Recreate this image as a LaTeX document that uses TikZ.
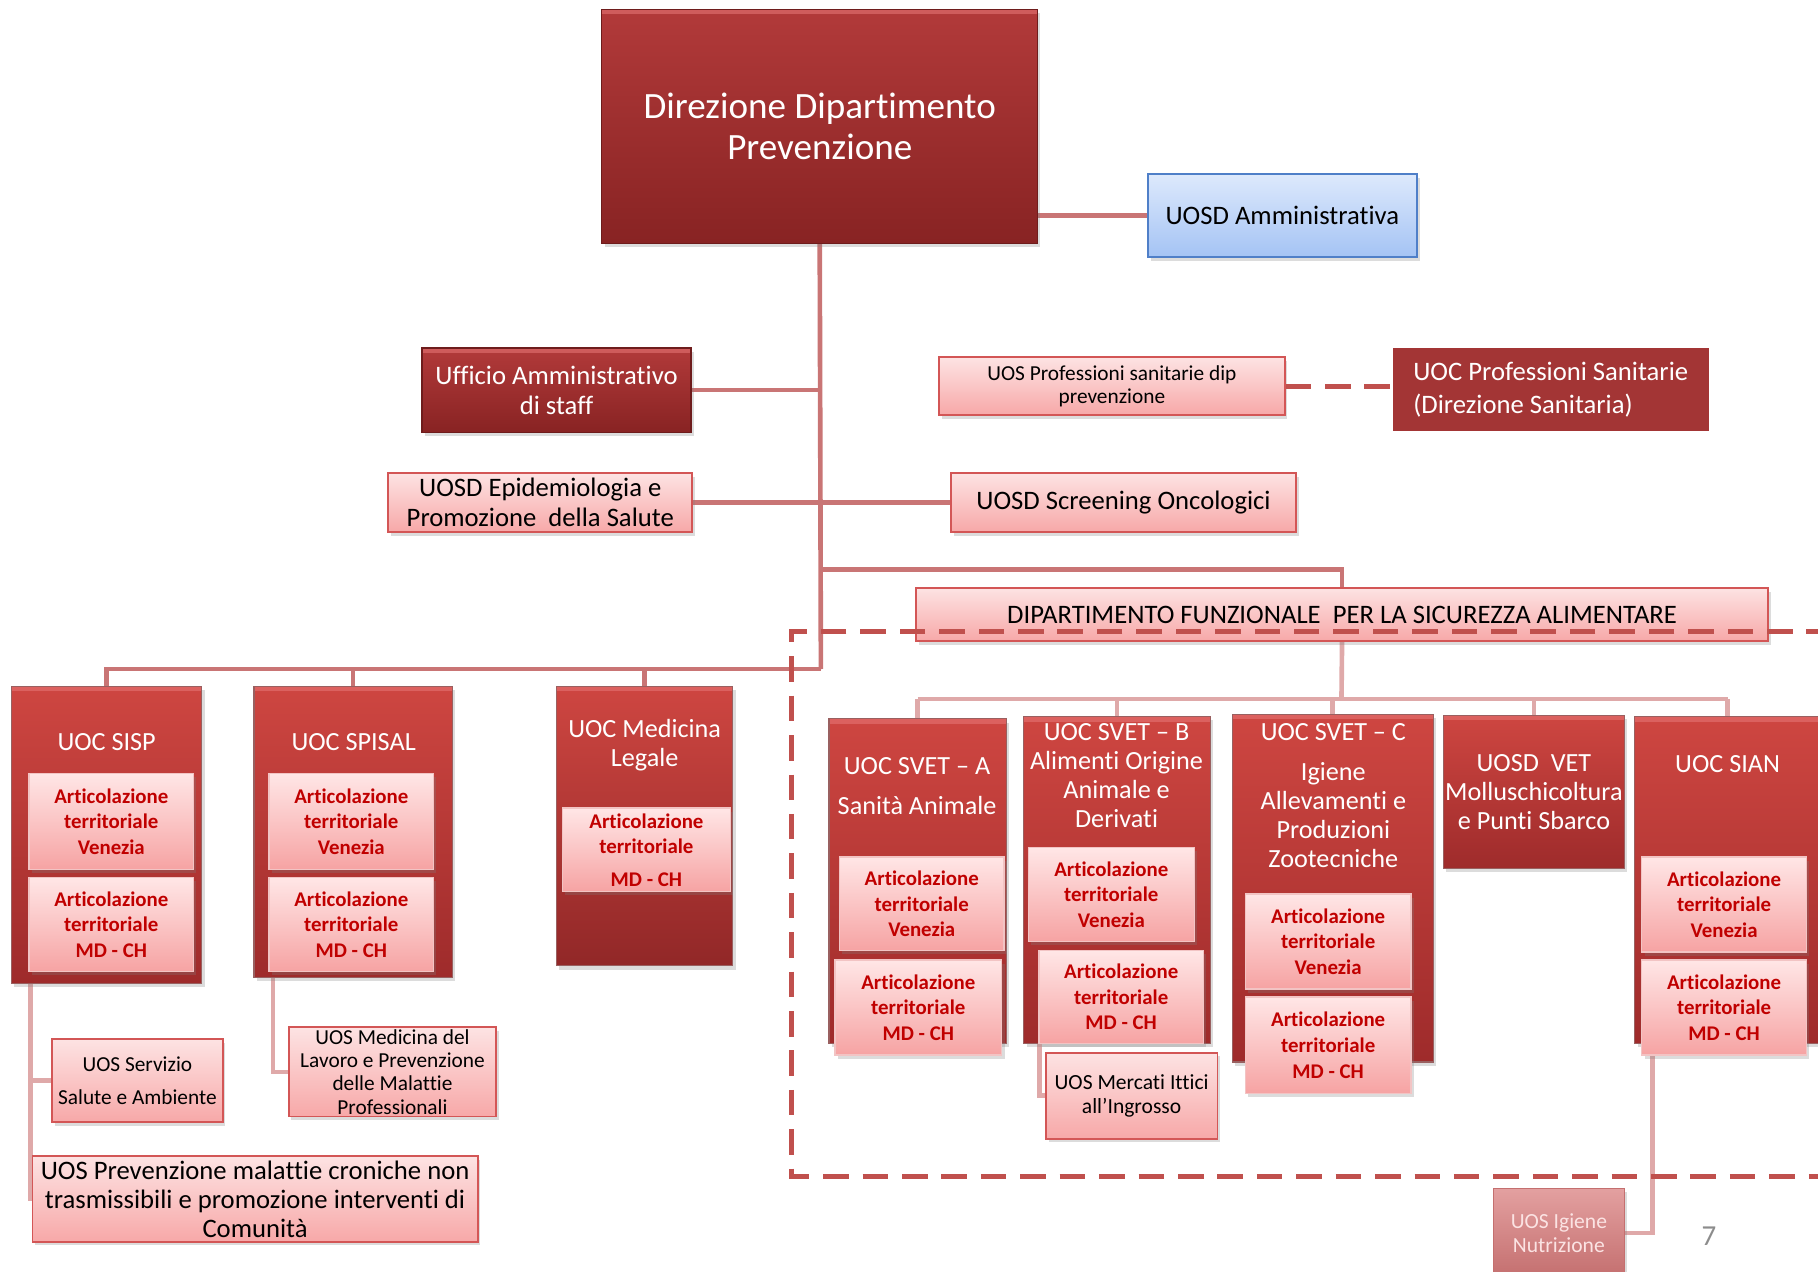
\documentclass[tikz,border=0pt]{standalone}
\usepackage{fontspec}
\setmainfont{Carlito}[Ligatures=NoCommon]
\usetikzlibrary{shadows,calc}
\pgfdeclarelayer{bg}
\pgfsetlayers{bg,main}
\definecolor{dkT}{HTML}{B23A3A}
\definecolor{dkB}{HTML}{882323}
\definecolor{dkE}{HTML}{6E1C1C}
\definecolor{rdT}{HTML}{CE4641}
\definecolor{rdB}{HTML}{9E2B2B}
\definecolor{pkT}{HTML}{FDE3E3}
\definecolor{pkB}{HTML}{F7A8A8}
\definecolor{pkE}{HTML}{D35656}
\definecolor{inT}{HTML}{FFE6E6}
\definecolor{inB}{HTML}{F6A3A3}
\definecolor{inE}{HTML}{F2C4C4}
\definecolor{inX}{HTML}{C00000}
\definecolor{blT}{HTML}{DDE9FC}
\definecolor{blB}{HTML}{A4C3F4}
\definecolor{blE}{HTML}{4F7FC8}
\definecolor{upF}{HTML}{A33535}
\definecolor{igT}{HTML}{E3A0A0}
\definecolor{igB}{HTML}{C46F6F}
\definecolor{igX}{HTML}{FBE3E3}
\definecolor{cnC}{HTML}{C97575}
\definecolor{lcC}{HTML}{DFA9A9}
\definecolor{dsC}{HTML}{C0504D}
\definecolor{hiC}{HTML}{E87878}
\newcommand{\bx}[7]{\node[#2, minimum width={(#5-#3)*0.5pt}, minimum height={(#6-#4)*0.5pt}] (#1) at ({(#3+#5)/2},{(#4+#6)/2}) {#7};}
\tikzset{
  shd/.style={drop shadow={opacity=0.28, shadow xshift=1.2pt, shadow yshift=-1.6pt}},
  bevel/.style={path picture={\fill[hiC,opacity=0.55] (path picture bounding box.north west) rectangle ([yshift=-2.2pt]path picture bounding box.north east);}},
  basebox/.style={inner sep=0pt, align=center},
  dkbox/.style={basebox, shd, bevel, draw=dkE, line width=0.6pt, top color=dkT, bottom color=dkB, text=white},
  rdbox/.style={basebox, shd, bevel, draw=dkE!70, line width=0.5pt, top color=rdT, bottom color=rdB, text=white},
  pkbox/.style={basebox, shd, draw=pkE, line width=0.8pt, top color=pkT, bottom color=pkB, text=black},
  inbox/.style={basebox, shd, draw=inE, line width=0.6pt, top color=inT, bottom color=inB, text=inX,
    font=\fontsize{9}{11}\selectfont\bfseries},
  blbox/.style={basebox, shd, draw=blE, line width=0.8pt, top color=blT, bottom color=blB, text=black},
  upbox/.style={basebox, fill=upF, text=white},
  igbox/.style={basebox, shd, draw=igB, line width=0.5pt, top color=igT, bottom color=igB, text=igX},
  ttl/.style={text=white, align=center, inner sep=0pt, font=\fontsize{11.3}{12.5}\selectfont},
  conn/.style={draw=cnC, line width=2pt},
  lconn/.style={draw=lcC, line width=2pt},
  dashln/.style={draw=dsC, line width=2.2pt, dash pattern=on 11pt off 6pt},
}
\begin{document}
\begin{tikzpicture}[x=0.5pt,y=-0.5pt]
\useasboundingbox (0,0) rectangle (1568,1097);
% top level
\bx{main}{dkbox,font=\fontsize{16}{17.5}\selectfont}{519}{8}{895}{210}{Direzione Dipartimento\\Prevenzione}
\bx{amm}{blbox,font=\fontsize{11.5}{13}\selectfont}{990}{150}{1222}{222}{UOSD Amministrativa}
\bx{uff}{dkbox,font=\fontsize{11.5}{13}\selectfont}{364}{300}{596}{373}{Ufficio Amministrativo\\di staff}
\bx{prof}{pkbox,font=\fontsize{9.2}{10}\selectfont}{810}{308}{1108}{358}{UOS Professioni sanitarie dip\\prevenzione}
\bx{uocprof}{upbox,font=\fontsize{11.5}{14}\selectfont,align=left}{1201}{300}{1474}{372}{UOC Professioni Sanitarie\\(Direzione Sanitaria)}
\bx{epi}{pkbox,font=\fontsize{11.5}{13}\selectfont}{335}{408}{597}{459}{UOSD Epidemiologia e\\Promozione~ della Salute}
\bx{scr}{pkbox,font=\fontsize{11.5}{13}\selectfont}{820}{408}{1118}{459}{UOSD Screening Oncologici}
\bx{dip}{pkbox,font=\fontsize{11.5}{12}\selectfont}{790}{507}{1525}{553}{DIPARTIMENTO FUNZIONALE~ PER LA SICUREZZA ALIMENTARE}
% left UOCs
\bx{sisp}{rdbox}{10}{592}{174}{848}{}
\node[ttl] (sispT) at (92,640) {UOC SISP};
\bx{sispA}{inbox}{25}{667}{167}{750}{Articolazione\\territoriale\\Venezia}
\bx{sispB}{inbox}{25}{757}{167}{838}{Articolazione\\territoriale\\MD - CH}
\bx{spisal}{rdbox}{219}{592}{390}{843}{}
\node[ttl] (spisalT) at (305,640) {UOC SPISAL};
\bx{spA}{inbox}{232}{667}{374}{750}{Articolazione\\territoriale\\Venezia}
\bx{spB}{inbox}{232}{757}{374}{838}{Articolazione\\territoriale\\MD - CH}
\bx{medleg}{rdbox,bottom color=rdB!92!black}{480}{592}{632}{833}{}
\node[ttl] (medlegT) at (556,643) {UOC Medicina\\Legale};
\bx{mlA}{inbox}{485}{697}{630}{769}{Articolazione\\territoriale\\[3pt]MD - CH}
\bx{serv}{pkbox,font=\fontsize{9.2}{14}\selectfont}{45}{896}{192}{968}{UOS Servizio\\Salute e Ambiente}
\bx{mdl}{pkbox,font=\fontsize{9.2}{10}\selectfont}{249}{886}{428}{963}{UOS Medicina del\\Lavoro e Prevenzione\\delle Malattie\\Professionali}
\bx{prev}{pkbox,font=\fontsize{11.5}{12.5}\selectfont}{28}{997}{412}{1071}{UOS Prevenzione malattie croniche non\\trasmissibili e promozione interventi di\\Comunità}
% right UOCs
\bx{svetA}{rdbox}{715}{620}{868}{900}{}
\node[ttl,font=\fontsize{11.3}{17}\selectfont] (svetAT) at (791,678) {UOC SVET – A\\Sanità Animale};
\bx{saA}{inbox}{724}{739}{866}{820}{Articolazione\\territoriale\\Venezia}
\bx{saB}{inbox}{720}{828}{864}{910}{Articolazione\\territoriale\\MD - CH}
\bx{svetB}{rdbox}{883}{618}{1044}{900}{}
\node[ttl] (svetBT) at (963,669) {UOC SVET – B\\Alimenti Origine\\Animale e\\Derivati};
\bx{sbA}{inbox}{887}{731}{1030}{812}{Articolazione\\territoriale\\Venezia}
\bx{sbB}{inbox}{896}{820}{1038}{900}{Articolazione\\territoriale\\MD - CH}
\bx{merc}{pkbox,font=\fontsize{9.3}{10.5}\selectfont}{902}{908}{1050}{982}{UOS Mercati Ittici\\all’Ingrosso}
\bx{svetC}{rdbox}{1063}{616}{1236}{916}{}
\node[ttl] (svetCT) at (1150,686) {UOC SVET – C\\[5pt]Igiene\\Allevamenti e\\Produzioni\\Zootecniche};
\bx{scA}{inbox}{1074}{771}{1217}{853}{Articolazione\\territoriale\\Venezia}
\bx{scB}{inbox}{1074}{860}{1217}{943}{Articolazione\\territoriale\\MD - CH}
\bx{vet}{rdbox}{1245}{617}{1401}{749}{}
\node[ttl] (vetT) at (1323,683) {UOSD~ VET\\Molluschicoltura\\e Punti Sbarco};
\bx{sian}{rdbox}{1410}{618}{1570}{900}{}
\node[ttl] (sianT) at (1490,659) {UOC SIAN};
\bx{siA}{inbox}{1416}{739}{1558}{821}{Articolazione\\territoriale\\Venezia}
\bx{siB}{inbox}{1416}{828}{1558}{910}{Articolazione\\territoriale\\MD - CH}
\bx{ign}{igbox,font=\fontsize{9.3}{10.5}\selectfont}{1288}{1025}{1401}{1102}{UOS Igiene\\Nutrizione}
\node[text=black!45, inner sep=0pt, font=\fontsize{12.5}{14}\selectfont] (pg) at (1474,1066) {7};
% junctions
\coordinate (j1) at (708,491);
\coordinate (j2) at (708,577);
\coordinate (j3) at (1157,603);
% connectors
\begin{pgfonlayer}{bg}
\draw[conn] (amm.west) -- (amm.west -| main.east);
\draw[conn] (main.south) -- (j2);
\draw[conn] (uff.east) -- (uff.east -| main.south);
\draw[conn] (epi.east) -- (scr.west);
\draw[conn] (j1) -| (dip.north);
\draw[conn] (j2) -| (sisp.north);
\draw[conn] (j2) -| (spisal.north);
\draw[conn] (j2) -| (medleg.north);
\draw[lconn] (dip.south) -- (j3);
\draw[lconn] (j3 -| svetA.north) -- (j3 -| sian.north);
\draw[lconn] (j3 -| svetA.north) -- (svetA.north);
\draw[lconn] (j3 -| svetB.north) -- (svetB.north);
\draw[lconn] (j3 -| svetC.north) -- (svetC.north);
\draw[lconn] (j3 -| vet.north) -- (vet.north);
\draw[lconn] (j3 -| sian.north) -- (sian.north);
\draw[lconn] ($(sisp.south west)+(17,0)$) |- (serv.west);
\draw[lconn] ($(sisp.south west)+(17,0)$) |- (prev.west);
\draw[lconn] ($(spisal.south west)+(17,0)$) |- (mdl.west);
\draw[lconn] ($(svetB.south west)+(14,0)$) |- (merc.west);
\draw[lconn] ($(siB.south west)+(10,0)$) |- (ign.east);
\end{pgfonlayer}
\draw[dashln] (prof.east) -- (prof.east -| uocprof.west);
\draw[dashln] (1580,545) -- (683,545) -- (683,1015) -- (1580,1015);
\end{tikzpicture}
\end{document}
